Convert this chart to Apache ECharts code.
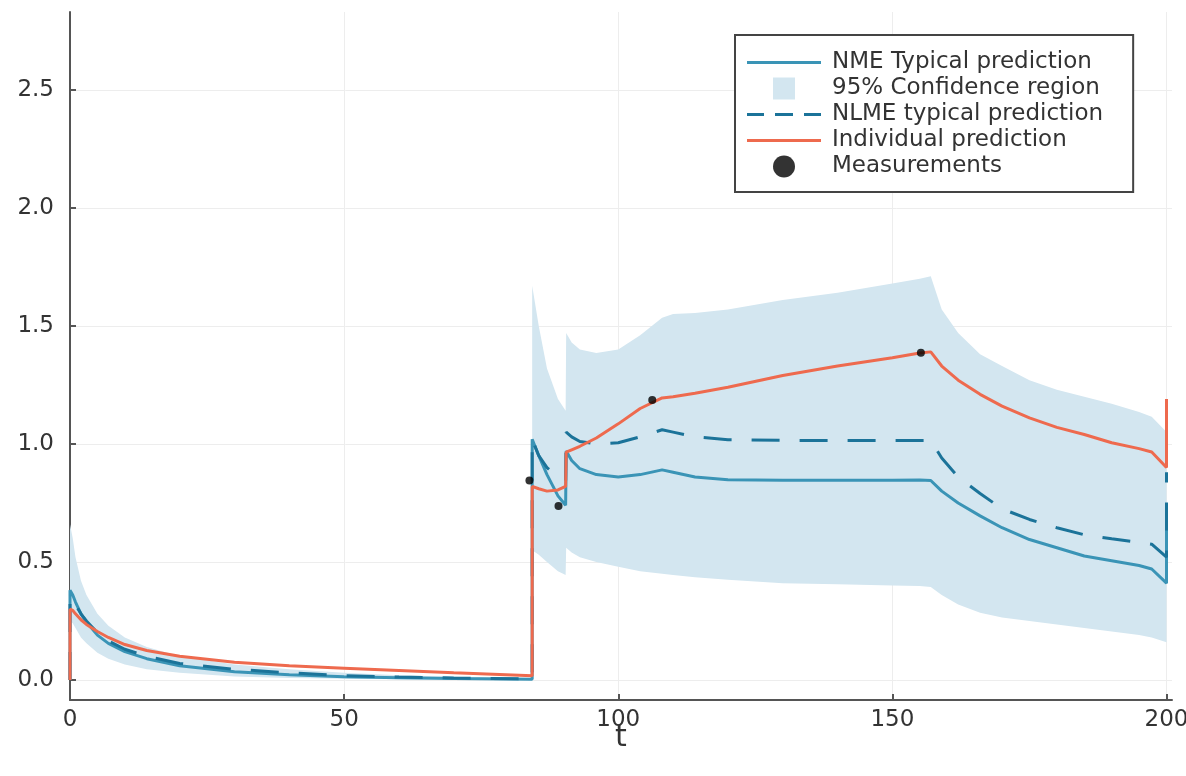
<!DOCTYPE html>
<html>
<head>
<meta charset="utf-8">
<script src="https://cdn.jsdelivr.net/npm/echarts@6/dist/echarts.min.js"></script>
<style>
  html, body { margin: 0; padding: 0; background: #fff; }
  #chart { width: 1186px; height: 776px; }
</style>
</head>
<body>
<div id="chart"></div>
<script>
// time grid shared by every curve (repeated t = dose jump)
var times = [0, 0, 0.5, 1, 2, 3, 5, 7, 10, 14, 20, 30, 40, 50, 60, 70,
  84.3, 84.3, 85.5, 87, 89, 90.4, 90.5, 91.5, 93, 96, 100, 104, 108, 110, 114,
  120, 130, 140, 150, 155, 157, 159, 162, 166, 170, 175, 180, 185, 190, 195,
  197.3, 200, 200]

var nmeTypical = [0, 0.38, 0.36, 0.33, 0.28, 0.245, 0.19, 0.155, 0.12, 0.09, 0.06, 0.035, 0.022, 0.014, 0.009, 0.006,
  0.003, 1.02, 0.95, 0.87, 0.78, 0.74, 0.97, 0.93, 0.895, 0.87, 0.86, 0.87, 0.89, 0.88, 0.86,
  0.848, 0.846, 0.846, 0.846, 0.847, 0.845, 0.80, 0.75, 0.695, 0.645, 0.595, 0.56, 0.525, 0.505, 0.485,
  0.47, 0.41, 0.72]

var nlmeTypical = [0, 0.35, 0.34, 0.32, 0.28, 0.25, 0.20, 0.165, 0.13, 0.10, 0.07, 0.045, 0.03, 0.018, 0.012, 0.008,
  0.005, 1.02, 0.95, 0.90, 0.86, 0.845, 1.05, 1.03, 1.01, 1.0, 1.005, 1.03, 1.06, 1.05, 1.03,
  1.018, 1.015, 1.015, 1.015, 1.015, 1.015, 0.94, 0.86, 0.79, 0.725, 0.68, 0.645, 0.615, 0.598, 0.583,
  0.575, 0.52, 0.88]

var individual = [0, 0.30, 0.295, 0.28, 0.255, 0.235, 0.205, 0.18, 0.15, 0.125, 0.10, 0.075, 0.06, 0.05, 0.04, 0.03,
  0.018, 0.82, 0.81, 0.80, 0.805, 0.82, 0.965, 0.975, 0.99, 1.025, 1.085, 1.15, 1.195, 1.20, 1.215,
  1.24, 1.29, 1.33, 1.365, 1.385, 1.39, 1.33, 1.27, 1.21, 1.16, 1.11, 1.07, 1.04, 1.005, 0.98,
  0.966, 0.90, 1.19]

var ciLower = [0, 0.25, 0.24, 0.22, 0.18, 0.155, 0.115, 0.09, 0.065, 0.045, 0.03, 0.015, 0.008, 0.005, 0.003, 0.002,
  0.001, 0.55, 0.53, 0.50, 0.46, 0.445, 0.56, 0.54, 0.52, 0.50, 0.48, 0.46, 0.45, 0.445, 0.435,
  0.425, 0.41, 0.405, 0.40, 0.398, 0.394, 0.36, 0.32, 0.285, 0.265, 0.25, 0.235, 0.22, 0.205, 0.19,
  0.18, 0.16, 0.16]

var ciUpper = [0, 0.66, 0.60, 0.52, 0.42, 0.36, 0.28, 0.23, 0.18, 0.14, 0.10, 0.065, 0.045, 0.03, 0.02, 0.014,
  0.008, 1.67, 1.50, 1.32, 1.19, 1.14, 1.47, 1.43, 1.40, 1.385, 1.40, 1.46, 1.535, 1.55, 1.555,
  1.57, 1.61, 1.64, 1.68, 1.70, 1.71, 1.57, 1.47, 1.38, 1.33, 1.27, 1.23, 1.20, 1.17, 1.135,
  1.115, 1.05, 1.05]

var measTimes = [83.8, 89.1, 106.2, 155.2]
var measValues = [0.845, 0.737, 1.186, 1.386]

var xTicks = [0, 50, 100, 150, 200]
var yTicks = [0, 0.5, 1, 1.5, 2, 2.5]

function pairs(xs, ys) {
  return xs.map(function (t, i) { return [t, ys[i]] })
}

var font = 'DejaVu Sans'
var bandColor = '#d3e6f0'
var chart = echarts.init(document.getElementById('chart'))

// band drawn as one polygon: upper edge forward, lower edge back
function renderBand(params, api) {
  if (params.dataIndex !== 0) return
  var pts = []
  for (var i = 0; i < times.length; i++) pts.push(api.coord([times[i], ciUpper[i]]))
  for (var j = times.length - 1; j >= 0; j--) pts.push(api.coord([times[j], ciLower[j]]))
  return {
    type: 'polygon',
    shape: { points: pts, smooth: 0 },
    style: { fill: bandColor }
  }
}

var lineIcon = 'path://M0,0H74V3H0Z'
var dashIcon = 'path://M0,0H17V3H0Z M28,0H46V3H28Z M57,0H74V3H57Z'

chart.setOption({
  animation: false,
  backgroundColor: '#fff',
  textStyle: { fontFamily: font },
  grid: { left: 70, right: 14, top: 12, bottom: 76, outerBoundsMode: 'none', containLabel: false },
  legend: {
    orient: 'vertical',
    left: 735,
    top: 35,
    padding: [16, 30, 14, 12],
    itemGap: 3,
    itemWidth: 74,
    itemHeight: 22,
    borderColor: '#444',
    borderWidth: 2,
    backgroundColor: '#fff',
    textStyle: { fontFamily: font, fontSize: 23, color: '#333', padding: [0, 0, 0, 6] },
    data: [
      { name: 'NME Typical prediction', icon: lineIcon },
      { name: '95% Confidence region', icon: 'path://M0,0H10V10H0Z' },
      { name: 'NLME typical prediction', icon: dashIcon },
      { name: 'Individual prediction', icon: lineIcon },
      { name: 'Measurements', icon: 'circle' }
    ]
  },
  xAxis: {
    type: 'value',
    min: 0,
    max: 201,
    name: 't',
    nameLocation: 'middle',
    nameGap: 23,
    nameMoveOverlap: false,
    nameTextStyle: { fontFamily: font, fontSize: 30, color: '#333', verticalAlign: 'top' },
    axisLine: { onZero: false, lineStyle: { color: '#555', width: 2 } },
    axisTick: { inside: true, length: 6, customValues: xTicks, lineStyle: { color: '#555', width: 2 } },
    axisLabel: { customValues: xTicks, margin: 9, fontSize: 23, color: '#333', fontFamily: font },
    splitLine: { show: true, lineStyle: { color: '#ededed', width: 1 } }
  },
  yAxis: {
    type: 'value',
    min: -0.085,
    max: 2.83,
    axisLine: { show: true, onZero: false, lineStyle: { color: '#555', width: 2 } },
    axisTick: { show: true, inside: true, length: 6, customValues: yTicks, lineStyle: { color: '#555', width: 2 } },
    axisLabel: {
      customValues: yTicks, margin: 16, fontSize: 23, color: '#333', fontFamily: font,
      formatter: function (v) { return v.toFixed(1) }
    },
    splitLine: { show: true, lineStyle: { color: '#ededed', width: 1 } }
  },
  series: [
    {
      name: '95% Confidence region',
      type: 'custom',
      silent: true,
      z: 1,
      clip: true,
      itemStyle: { color: bandColor },
      renderItem: renderBand,
      data: pairs(times, ciUpper)
    },
    {
      name: 'NME Typical prediction',
      type: 'line',
      symbol: 'none',
      z: 3,
      itemStyle: { color: '#3a94b6' },
      lineStyle: { color: '#3a94b6', width: 3 },
      data: pairs(times, nmeTypical)
    },
    {
      name: 'NLME typical prediction',
      type: 'line',
      symbol: 'none',
      z: 3,
      itemStyle: { color: '#1b7399' },
      lineStyle: { color: '#1b7399', width: 3, type: [28, 20] },
      data: pairs(times, nlmeTypical)
    },
    {
      name: 'Individual prediction',
      type: 'line',
      symbol: 'none',
      z: 4,
      itemStyle: { color: '#ee6a4e' },
      lineStyle: { color: '#ee6a4e', width: 3 },
      data: pairs(times, individual)
    },
    {
      name: 'Measurements',
      type: 'scatter',
      symbolSize: 8,
      z: 5,
      itemStyle: { color: '#000' },
      data: pairs(measTimes, measValues)
    }
  ]
})
</script>
</body>
</html>
